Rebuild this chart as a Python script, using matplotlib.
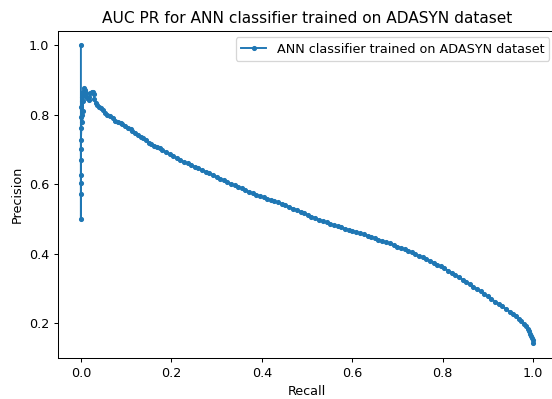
import matplotlib
matplotlib.use("Agg")
import matplotlib.pyplot as plt

# Precision-recall curve of the ANN classifier (ADASYN-balanced training set)
recall = [
    0.000, 0.000, 0.000, 0.000, 0.000, 0.000, 0.000, 0.000, 0.001, 0.001,
    0.001, 0.002, 0.002, 0.003, 0.003, 0.004, 0.004, 0.005, 0.006, 0.007,
    0.008, 0.010, 0.012, 0.014, 0.017, 0.019, 0.021, 0.024, 0.026, 0.028,
    0.030, 0.033, 0.036, 0.040, 0.044, 0.048, 0.053, 0.058, 0.064, 0.070,
    0.076, 0.082, 0.088, 0.092, 0.098, 0.104, 0.110, 0.114, 0.120, 0.126,
    0.132, 0.138, 0.144, 0.150, 0.156, 0.162, 0.168, 0.174, 0.180, 0.188,
    0.196, 0.204, 0.212, 0.220, 0.228, 0.236, 0.244, 0.252, 0.260, 0.268,
    0.276, 0.284, 0.292, 0.300, 0.308, 0.316, 0.324, 0.332, 0.340, 0.348,
    0.356, 0.364, 0.372, 0.380, 0.388, 0.396, 0.404, 0.412, 0.420, 0.428,
    0.436, 0.444, 0.452, 0.460, 0.470, 0.478, 0.486, 0.494, 0.502, 0.510,
    0.518, 0.526, 0.535, 0.544, 0.552, 0.560, 0.568, 0.576, 0.584, 0.592,
    0.600, 0.609, 0.618, 0.626, 0.634, 0.642, 0.650, 0.658, 0.666, 0.674,
    0.683, 0.692, 0.700, 0.708, 0.716, 0.724, 0.732, 0.740, 0.748, 0.756,
    0.764, 0.772, 0.780, 0.788, 0.796, 0.804, 0.812, 0.820, 0.828, 0.836,
    0.844, 0.852, 0.860, 0.868, 0.876, 0.884, 0.892, 0.900, 0.908, 0.916,
    0.924, 0.932, 0.940, 0.948, 0.955, 0.962, 0.968, 0.974, 0.979, 0.984,
    0.988, 0.991, 0.994, 0.996, 0.998, 0.999, 1.000,
]
precision = [
    1.000, 0.500, 0.572, 0.603, 0.626, 0.670, 0.700, 0.727, 0.761, 0.794,
    0.823, 0.800, 0.840, 0.780, 0.850, 0.810, 0.865, 0.840, 0.876, 0.860,
    0.872, 0.855, 0.862, 0.848, 0.842, 0.852, 0.862, 0.866, 0.864, 0.858,
    0.845, 0.832, 0.828, 0.822, 0.818, 0.813, 0.806, 0.800, 0.795, 0.789,
    0.782, 0.779, 0.776, 0.772, 0.766, 0.762, 0.758, 0.753, 0.746, 0.741,
    0.737, 0.733, 0.726, 0.719, 0.716, 0.711, 0.708, 0.703, 0.698, 0.692,
    0.686, 0.681, 0.675, 0.669, 0.664, 0.660, 0.655, 0.650, 0.646, 0.640,
    0.636, 0.632, 0.626, 0.621, 0.616, 0.611, 0.606, 0.601, 0.597, 0.592,
    0.588, 0.583, 0.578, 0.574, 0.570, 0.566, 0.562, 0.558, 0.555, 0.551,
    0.548, 0.544, 0.540, 0.535, 0.530, 0.526, 0.521, 0.517, 0.512, 0.507,
    0.503, 0.498, 0.494, 0.490, 0.486, 0.482, 0.479, 0.476, 0.472, 0.469,
    0.466, 0.463, 0.459, 0.456, 0.452, 0.449, 0.445, 0.441, 0.437, 0.434,
    0.430, 0.425, 0.421, 0.417, 0.413, 0.408, 0.404, 0.399, 0.394, 0.390,
    0.385, 0.380, 0.375, 0.369, 0.364, 0.358, 0.352, 0.346, 0.339, 0.333,
    0.326, 0.319, 0.313, 0.306, 0.299, 0.292, 0.285, 0.278, 0.270, 0.263,
    0.256, 0.249, 0.242, 0.234, 0.227, 0.220, 0.213, 0.206, 0.199, 0.192,
    0.185, 0.178, 0.171, 0.164, 0.157, 0.151, 0.145,
]

title = "AUC PR for ANN classifier trained on ADASYN dataset"
series_label = "ANN classifier trained on ADASYN dataset"

DPI = 92
fig = plt.figure(figsize=(552 / DPI, 399 / DPI), dpi=DPI)
ax = fig.add_axes([0.1056, 0.102, 0.901, 0.8203])

ax.plot(recall, precision, marker=".", label=series_label)
ax.set_title(title)
ax.set_xlabel("Recall")
ax.set_ylabel("Precision")
ax.set_xlim(-0.05, 1.05)
ax.set_ylim(0.0998, 1.0402)
ax.legend(loc="upper right")

fig.savefig("out.png", dpi=DPI)
